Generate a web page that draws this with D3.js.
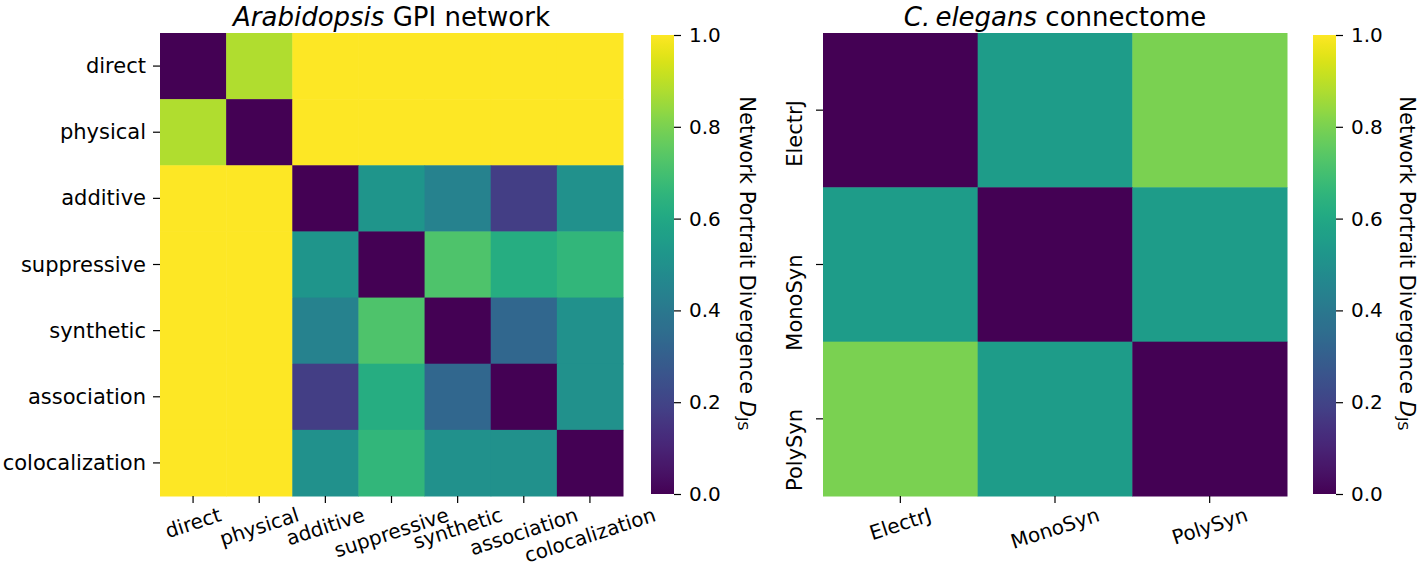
<!DOCTYPE html>
<html>
<head>
<meta charset="utf-8">
<script src="https://cdn.jsdelivr.net/npm/d3@7"></script>
<style>
  html, body { margin: 0; padding: 0; background: #fff; }
  text { font-family: "DejaVu Sans", sans-serif; fill: #000; }
</style>
</head>
<body>
<svg id="chart" width="1418" height="575"></svg>
<script>
// ---------- data ----------
const gpiLabels = ["direct", "physical", "additive", "suppressive", "synthetic", "association", "colocalization"];
const gpiValues = [
  [0.00, 0.88, 1.00, 1.00, 1.00, 1.00, 1.00],
  [0.88, 0.00, 1.00, 1.00, 1.00, 1.00, 1.00],
  [1.00, 1.00, 0.00, 0.52, 0.44, 0.18, 0.50],
  [1.00, 1.00, 0.52, 0.00, 0.72, 0.62, 0.66],
  [1.00, 1.00, 0.44, 0.72, 0.00, 0.33, 0.50],
  [1.00, 1.00, 0.18, 0.62, 0.33, 0.00, 0.50],
  [1.00, 1.00, 0.50, 0.66, 0.50, 0.50, 0.00]
];
const celLabels = ["ElectrJ", "MonoSyn", "PolySyn"];
const celValues = [
  [0.00, 0.55, 0.80],
  [0.55, 0.00, 0.55],
  [0.80, 0.55, 0.00]
];
const cbarTicks = [0.0, 0.2, 0.4, 0.6, 0.8, 1.0];

// ---------- setup ----------
const svg = d3.select("#chart");
const color = d3.scaleSequential(d3.interpolateViridis).domain([0, 1]);
const FS = 21;      // y tick labels, colorbar label
const XFS = 20;     // x tick labels
const ANG = 18;     // x label rotation (deg)

const defs = svg.append("defs");
const grad = defs.append("linearGradient").attr("id", "viridisGrad")
  .attr("x1", "0").attr("y1", "1").attr("x2", "0").attr("y2", "0");
d3.range(0, 1.0001, 0.02).forEach(t => {
  grad.append("stop").attr("offset", t).attr("stop-color", color(t));
});

function heatmap(cfg) {
  const { labels, values, x0, x1, y0, y1, rotateY } = cfg;
  const g = svg.append("g");
  const x = d3.scaleBand().domain(labels).range([x0, x1]);
  const y = d3.scaleBand().domain(labels).range([y0, y1]);

  const cells = [];
  values.forEach((row, i) => row.forEach((v, j) => cells.push({ r: labels[i], c: labels[j], v })));
  g.selectAll("rect.cell").data(cells).enter().append("rect")
    .attr("x", d => x(d.c)).attr("y", d => y(d.r))
    .attr("width", x.bandwidth() + 0.5).attr("height", y.bandwidth() + 0.5)
    .attr("fill", d => color(d.v));

  labels.forEach(l => {
    const cy = y(l) + y.bandwidth() / 2;
    g.append("line").attr("x1", x0 - 7).attr("x2", x0).attr("y1", cy).attr("y2", cy)
      .attr("stroke", "#000").attr("stroke-width", 1.2);
    if (rotateY) {
      g.append("text")
        .attr("transform", `translate(${x0 - 28},${cy - 10}) rotate(-90)`)
        .attr("text-anchor", "end").attr("dominant-baseline", "central")
        .attr("font-size", FS).text(l);
    } else {
      g.append("text").attr("x", x0 - 14).attr("y", cy)
        .attr("text-anchor", "end").attr("dominant-baseline", "central")
        .attr("font-size", FS).text(l);
    }
  });

  const ang = ANG * Math.PI / 180;
  const top = y1 + 8;
  labels.forEach(l => {
    const cx = x(l) + x.bandwidth() / 2;
    g.append("line").attr("x1", cx).attr("x2", cx).attr("y1", y1).attr("y2", y1 + 7)
      .attr("stroke", "#000").attr("stroke-width", 1.2);
    const t = g.append("text").attr("text-anchor", "middle").attr("dominant-baseline", "central")
      .attr("font-size", XFS).text(l);
    const w = t.node().getComputedTextLength();
    const h = XFS * 1.05;
    const H = w * Math.sin(ang) + h * Math.cos(ang);
    t.attr("transform", `translate(${cx},${top + H / 2}) rotate(${-ANG})`);
  });
  return { x, y };
}

function colorbar(cfg) {
  const { cx0, cx1, cy0, cy1, labelX } = cfg;
  const g = svg.append("g");
  const s = d3.scaleLinear().domain([0, 1]).range([cy1, cy0]);
  g.append("rect").attr("x", cx0).attr("y", cy0).attr("width", cx1 - cx0).attr("height", cy1 - cy0)
    .attr("fill", "url(#viridisGrad)");
  const axis = d3.axisRight(s).tickValues(cbarTicks).tickFormat(d3.format(".1f")).tickSize(7).tickPadding(8);
  const ag = g.append("g").attr("transform", `translate(${cx1},0)`).call(axis);
  ag.select(".domain").remove();
  ag.selectAll("line").attr("stroke", "#000").attr("stroke-width", 1.2);
  ag.selectAll("text").attr("font-size", 20).attr("font-family", "DejaVu Sans, sans-serif").attr("fill", "#000");

  const lab = g.append("text")
    .attr("transform", `translate(${labelX},${(cy0 + cy1) / 2 - 1}) rotate(90)`)
    .attr("text-anchor", "middle").attr("dominant-baseline", "central")
    .attr("font-size", FS);
  lab.append("tspan").text("Network Portrait Divergence ");
  lab.append("tspan").attr("font-style", "italic").text("D");
  lab.append("tspan").attr("font-size", FS * 0.7).attr("baseline-shift", "-25%").text("JS");
}

// ---------- left panel ----------
heatmap({ labels: gpiLabels, values: gpiValues, x0: 160, x1: 623, y0: 33, y1: 496, rotateY: false });
colorbar({ cx0: 651, cx1: 674, cy0: 35, cy1: 494, labelX: 747 });
const t1 = svg.append("text").attr("x", 391.5).attr("y", 26).attr("text-anchor", "middle").attr("font-size", 26);
t1.append("tspan").attr("font-style", "italic").text("Arabidopsis");
t1.append("tspan").text(" GPI network");

// ---------- right panel ----------
heatmap({ labels: celLabels, values: celValues, x0: 823, x1: 1287, y0: 33, y1: 496, rotateY: true });
colorbar({ cx0: 1313, cx1: 1336, cy0: 35, cy1: 494, labelX: 1407 });
const t2 = svg.append("text").attr("x", 1055).attr("y", 26).attr("text-anchor", "middle").attr("font-size", 26);
t2.append("tspan").attr("font-style", "italic").text("C.\u2009elegans");
t2.append("tspan").text(" connectome");
</script>
</body>
</html>
